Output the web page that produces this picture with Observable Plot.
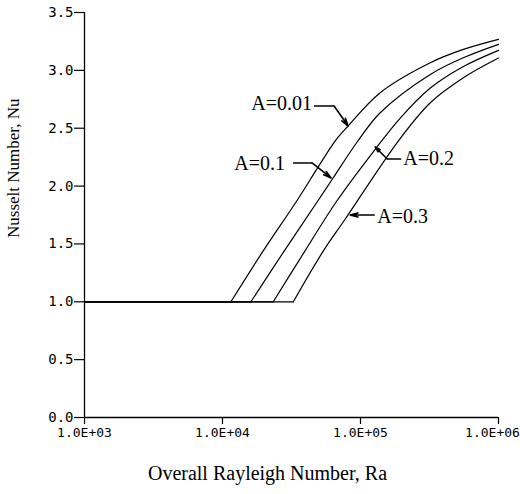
<!DOCTYPE html>
<html>
<head>
<meta charset="utf-8">
<script src="https://cdn.jsdelivr.net/npm/d3@7"></script>
<script src="https://cdn.jsdelivr.net/npm/@observablehq/plot@0.6"></script>
<style>
  html, body { margin: 0; padding: 0; background: #fff; overflow: hidden; }
  #chart { width: 520px; height: 494px; }
</style>
</head>
<body>
<div id="chart"></div>
<script>
// ---- Data ----
const seriesNames = ["A=0.01", "A=0.1", "A=0.2", "A=0.3"];

const ra_001 = [1e3, 11500, 19730, 34500, 49920, 65450, 81370, 138900, 320600, 556800, 1e6];
const nu_001 = [1, 1, 1.44, 1.871, 2.174, 2.389, 2.519, 2.807, 3.066, 3.181, 3.268];

const ra_01 = [1e3, 16060, 28040, 49000, 63300, 94570, 138900, 320600, 556800, 1e6];
const nu_01 = [1, 1, 1.44, 1.871, 2.07, 2.381, 2.634, 2.965, 3.109, 3.225];

const ra_02 = [1e3, 23320, 39630, 67340, 127800, 194200, 320600, 556800, 1e6];
const nu_02 = [1, 1, 1.44, 1.871, 2.318, 2.588, 2.847, 3.033, 3.173];

const ra_03 = [1e3, 32600, 53830, 77360, 187800, 320600, 556800, 1e6];
const nu_03 = [1, 1, 1.44, 1.713, 2.389, 2.72, 2.936, 3.106];

const xTicks = [1e3, 1e4, 1e5, 1e6];
const xTickLabels = ["1.0E+03", "1.0E+04", "1.0E+05", "1.0E+06"];
const yTicks = [0, 0.5, 1.0, 1.5, 2.0, 2.5, 3.0, 3.5];
const yTickLabels = ["0.0", "0.5", "1.0", "1.5", "2.0", "2.5", "3.0", "3.5"];

const xTitle = "Overall Rayleigh Number, Ra";
const yTitle = "Nusselt Number, Nu";

// annotation labels (data coordinates)
const annRa = [44560, 28370, 204100, 132100];
const annNu = [2.709, 2.191, 2.234, 1.733];
const annAnchor = ["end", "end", "start", "start"];
// leader lines: start -> elbow -> arrow tip on the curve
const leadStartRa = [46070, 32430, 197400, 125700];
const leadStartNu = [2.692, 2.1995, 2.234, 1.75];
const leadElbowRa = [64390, 44560, 156200, 125700];
const leadElbowNu = [2.692, 2.1995, 2.234, 1.75];
const leadTipRa = [81370, 61220, 127800, 84120];
const leadTipNu = [2.519, 2.070, 2.338, 1.75];

// ---- Build tables ----
const raArr = [ra_001, ra_01, ra_02, ra_03];
const nuArr = [nu_001, nu_01, nu_02, nu_03];
const flat = [], rising = [];
seriesNames.forEach((s, i) => {
  raArr[i].forEach((r, j) => {
    const d = {series: s, ra: r, nu: nuArr[i][j]};
    if (j <= 1) flat.push(d);
    if (j >= 1) rising.push(d);
  });
});
const ann = seriesNames.map((s, i) => ({
  label: s, ra: annRa[i], nu: annNu[i], anchor: annAnchor[i],
  sx: leadStartRa[i], sy: leadStartNu[i], ex: leadElbowRa[i], ey: leadElbowNu[i],
  tx: leadTipRa[i], ty: leadTipNu[i]
}));
const tickLabelX = new Map(xTicks.map((t, i) => [t, xTickLabels[i]]));
const tickLabelY = new Map(yTicks.map((t, i) => [t, yTickLabels[i]]));
const lastX = xTicks[xTicks.length - 1];

const mono = "DejaVu Sans Mono";
const serif = "Liberation Serif";

const chart = Plot.plot({
  width: 520,
  height: 494,
  marginLeft: 84,
  marginRight: 22,
  marginTop: 12,
  marginBottom: 77,
  style: {background: "#fff", color: "#000", overflow: "visible"},
  x: {type: "log", domain: [1e3, 1e6]},
  y: {domain: [0, 3.5]},
  marks: [
    Plot.axisX(xTicks, {tickSize: 7, tickPadding: 3, tickFormat: d => d === lastX ? "" : tickLabelX.get(d),
      fontFamily: mono, fontSize: 13, label: null, strokeWidth: 1.2}),
    Plot.axisX([lastX], {tickSize: 0, tickPadding: 10, tickFormat: d => tickLabelX.get(d),
      fontFamily: mono, fontSize: 13, label: null, dx: -6}),
    Plot.axisY(yTicks, {tickSize: 10, tickPadding: 1, tickFormat: d => tickLabelY.get(d),
      fontFamily: mono, fontSize: 14, label: null, strokeWidth: 1.2}),
    Plot.ruleX([1e3], {y1: 0, y2: 3.5, strokeWidth: 1.3}),
    Plot.ruleY([0], {x1: 1e3, x2: 1e6, strokeWidth: 1.3}),
    Plot.line(flat, {x: "ra", y: "nu", z: "series", stroke: "#000", strokeWidth: 1.3}),
    Plot.line(rising, {x: "ra", y: "nu", z: "series", stroke: "#000", strokeWidth: 1.2, curve: "catmull-rom"}),
    Plot.link(ann, {x1: "sx", y1: "sy", x2: "ex", y2: "ey", stroke: "#000", strokeWidth: 1.5}),
    Plot.arrow(ann, {x1: "ex", y1: "ey", x2: "tx", y2: "ty", stroke: "#000", strokeWidth: 1.6,
      headLength: 9, headAngle: 30}),
    Plot.text(ann.filter(d => d.anchor === "end"), {x: "ra", y: "nu", text: "label", textAnchor: "end",
      fontFamily: serif, fontSize: 20, fill: "#000"}),
    Plot.text(ann.filter(d => d.anchor === "start"), {x: "ra", y: "nu", text: "label", textAnchor: "start",
      fontFamily: serif, fontSize: 20, fill: "#000"}),
    Plot.text([xTitle], {frameAnchor: "bottom", dx: -24, dy: 62, text: d => d,
      fontFamily: serif, fontSize: 20, fill: "#000"}),
    Plot.text([yTitle], {frameAnchor: "left", dx: -71, dy: 23, rotate: -90, text: d => d,
      fontFamily: serif, fontSize: 17, fill: "#000"})
  ]
});
document.getElementById("chart").appendChild(chart);
</script>
</body>
</html>
